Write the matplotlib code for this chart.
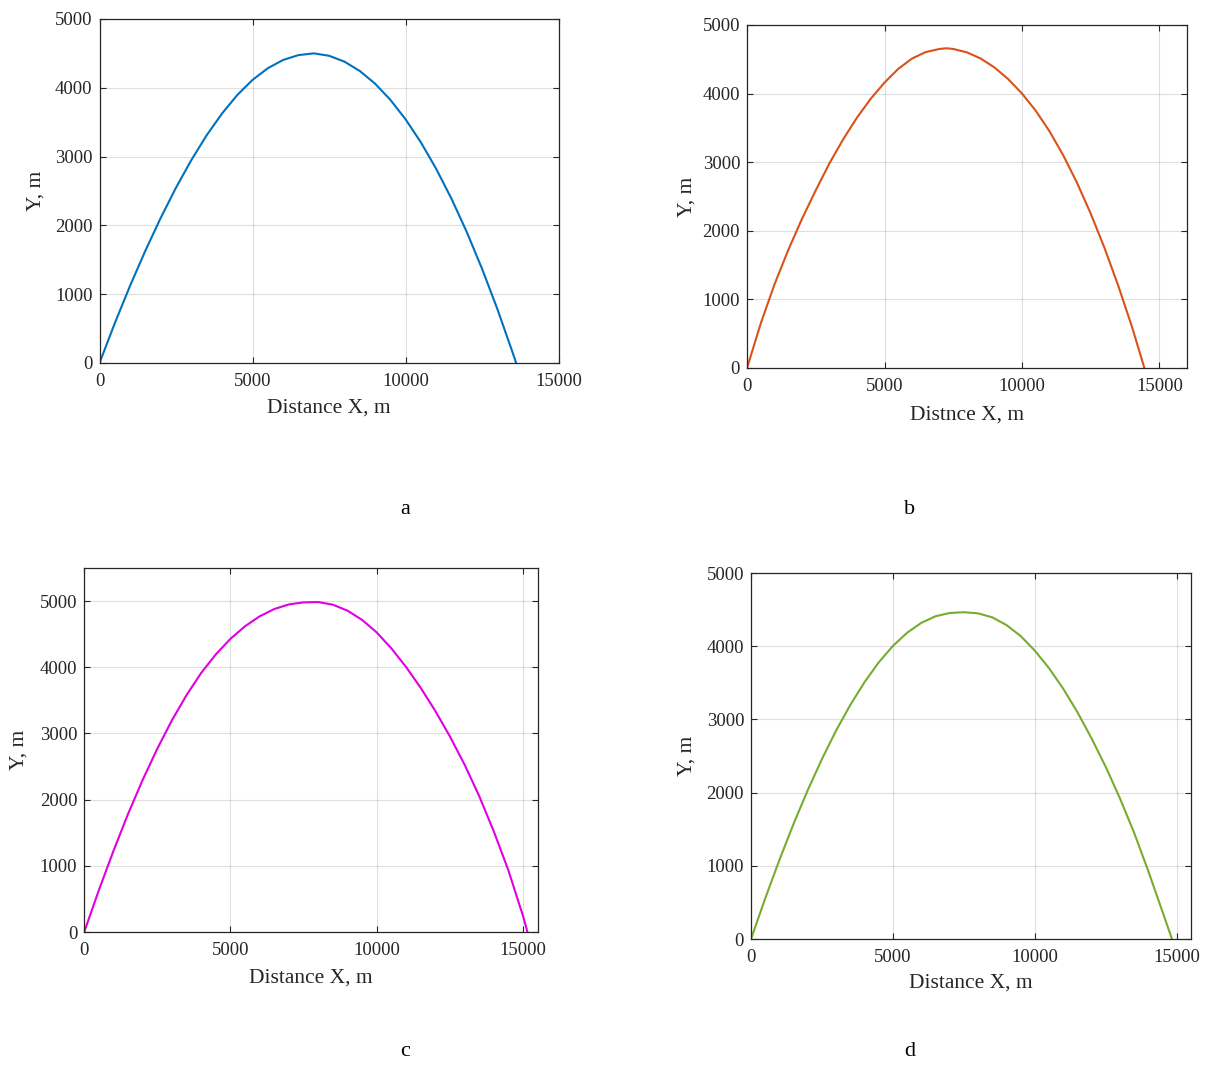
import matplotlib
matplotlib.use("Agg")
import matplotlib.pyplot as plt

plt.rcParams['font.family'] = ['Liberation Serif', 'DejaVu Serif']

# trajectory a
xa = [0, 500, 1000, 1500, 2000, 2500, 3000, 3500, 4000, 4500, 5000, 5500, 6000, 6500, 7000,
      7500, 8000, 8500, 9000, 9500, 10000, 10500, 11000, 11500, 12000, 12500, 13000, 13500, 13610]
ya = [0, 580, 1125, 1635, 2110, 2550, 2950, 3310, 3625, 3895, 4115, 4285, 4405, 4475, 4500,
      4465, 4380, 4245, 4060, 3825, 3540, 3205, 2820, 2385, 1900, 1365, 780, 145, 0]

# trajectory b
xb = [0, 500, 1000, 1500, 2000, 2500, 3000, 3500, 4000, 4500, 5000, 5500, 6000, 6500, 7000, 7250,
      7500, 8000, 8500, 9000, 9500, 10000, 10500, 11000, 11500, 12000, 12500, 13000, 13500, 14000, 14450]
yb = [0, 650, 1220, 1720, 2175, 2590, 2985, 3335, 3650, 3925, 4160, 4360, 4510, 4605, 4650, 4660,
      4650, 4600, 4510, 4380, 4210, 4000, 3750, 3450, 3100, 2700, 2250, 1750, 1200, 600, 0]

# trajectory c
xc = [0, 500, 1000, 1500, 2000, 2500, 3000, 3500, 4000, 4500, 5000, 5500, 6000, 6500, 7000, 7500,
      8000, 8500, 9000, 9500, 10000, 10500, 11000, 11500, 12000, 12500, 13000, 13500, 14000,
      14500, 15000, 15150]
yc = [0, 630, 1225, 1785, 2300, 2770, 3200, 3580, 3915, 4195, 4430, 4620, 4770, 4880, 4950, 4980,
      4985, 4945, 4855, 4715, 4525, 4285, 4005, 3690, 3340, 2955, 2530, 2055, 1520,
      930, 240, 0]

# trajectory d
xd = [0, 500, 1000, 1500, 2000, 2500, 3000, 3500, 4000, 4500, 5000, 5500, 6000, 6500, 7000, 7500,
      8000, 8500, 9000, 9500, 10000, 10500, 11000, 11500, 12000, 12500, 13000, 13500, 14000, 14500, 14830]
yd = [0, 555, 1080, 1575, 2035, 2460, 2850, 3200, 3510, 3780, 4005, 4185, 4320, 4410, 4455, 4465,
      4450, 4395, 4290, 4140, 3940, 3700, 3420, 3100, 2740, 2350, 1920, 1450, 925, 370, 0]

fig = plt.figure(figsize=(12.08, 10.66), dpi=100)

panels = [
    # x, y, colour, xlabel, xmax, ymax, rect, xlabel y, ylabel x, caption, caption pos
    (xa, ya, '#0072BD', 'Distance X, m', 15000, 5000, [0.0824, 0.6595, 0.3801, 0.3227],
     -0.131, -0.138, 'a', (405, 510)),
    (xb, yb, '#D95319', 'Distnce X, m', 16000, 5000, [0.6184, 0.6548, 0.3642, 0.3218],
     -0.137, -0.136, 'b', (910, 510)),
    (xc, yc, '#E000E0', 'Distance X, m', 15500, 5500, [0.0697, 0.1257, 0.3754, 0.3415],
     -0.126, -0.144, 'c', (405, 1052)),
    (xd, yd, '#77AC30', 'Distance X, m', 15500, 5000, [0.6217, 0.1191, 0.3642, 0.3433],
     -0.120, -0.145, 'd', (910, 1052)),
]

for x, y, col, xl, xmax, ymax, rect, xly, ylx, cap, cpos in panels:
    ax = fig.add_axes(rect)
    ax.plot(x, y, color=col, lw=1.5)
    ax.set_xlim(0, xmax)
    ax.set_ylim(0, ymax)
    ax.set_xticks([0, 5000, 10000, 15000])
    ax.set_yticks(range(0, ymax + 1, 1000))
    ax.grid(True, color='#262626', alpha=0.15, lw=0.8)
    ax.tick_params(direction='in', top=True, right=True, length=4, width=0.8,
                   labelsize=13.5, colors='#262626', pad=5)
    ax.tick_params(axis='x', pad=7)
    for s in ax.spines.values():
        s.set_color('#262626')
        s.set_linewidth(0.9)
    ax.set_xlabel(xl, fontsize=15.5, color='#262626', va='center')
    ax.set_ylabel('Y, m', fontsize=15.5, color='#262626', va='center')
    ax.xaxis.set_label_coords(0.5, xly)
    ax.yaxis.set_label_coords(ylx, 0.5)
    fig.text(cpos[0] / 1208, 1 - cpos[1] / 1066, cap, fontsize=16,
             ha='center', va='center')

fig.savefig('out.png', dpi=100)
